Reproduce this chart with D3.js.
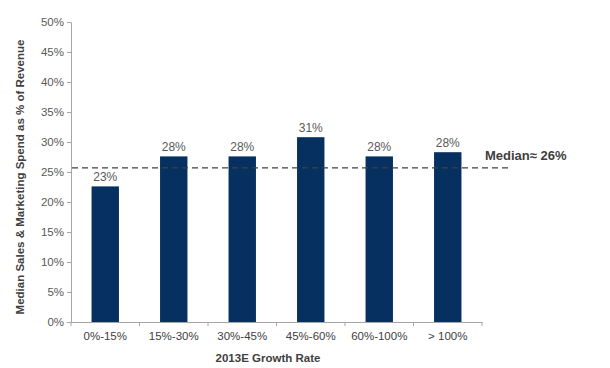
<!DOCTYPE html>
<html><head><meta charset="utf-8">
<script src="https://cdn.jsdelivr.net/npm/d3@7"></script>
<style>body{margin:0;background:#fff;}svg{display:block;font-family:Arial,"Liberation Sans",sans-serif;}</style>
</head><body><svg id="c" width="610" height="368"></svg>
<script>
const categories = ["0%-15%","15%-30%","30%-45%","45%-60%","60%-100%","> 100%"];
const values = [22.6, 27.6, 27.6, 30.8, 27.6, 28.3];
const valueLabels = ["23%","28%","28%","31%","28%","28%"];
const yTicks = [0,5,10,15,20,25,30,35,40,45,50];
const median = 25.7;
const medianLabel = "Median\u2248 26%";

const svg = d3.select("#c");
const x = d3.scaleBand().domain(categories).range([71, 482]).paddingInner(0.6).paddingOuter(0.3);
const y = d3.scaleLinear().domain([0, 50]).range([322, 22]);
const xb = d3.scaleBand().domain(categories).range([71, 482]);

// bars
svg.selectAll("rect.bar").data(values).enter().append("rect")
  .attr("x", (d,i) => x(categories[i]))
  .attr("y", d => y(d))
  .attr("width", x.bandwidth())
  .attr("height", d => y(0) - y(d))
  .attr("fill", "#06305f");

// value labels
svg.selectAll("text.val").data(values).enter().append("text")
  .attr("x", (d,i) => x(categories[i]) + x.bandwidth()/2)
  .attr("y", d => y(d) - 5)
  .attr("text-anchor", "middle")
  .attr("font-size", 12)
  .attr("fill", "#595959")
  .text((d,i) => valueLabels[i]);

// median line
svg.append("line")
  .attr("x1", 72).attr("x2", 510)
  .attr("y1", y(median)).attr("y2", y(median))
  .attr("stroke", "#404040").attr("stroke-width", 1.2)
  .attr("stroke-dasharray", "6,4");
svg.append("text").attr("x", 485).attr("y", y(median) - 8)
  .attr("font-size", 13).attr("font-weight", "bold").attr("fill", "#404040")
  .text(medianLabel);

// y axis
const yAxis = svg.append("g").attr("transform", "translate(71,0)")
  .call(d3.axisLeft(y).tickValues(yTicks).tickSize(4).tickPadding(3).tickFormat(d => d + "%"));
yAxis.select(".domain").attr("stroke", "#a6a6a6");
yAxis.selectAll(".tick line").attr("stroke", "#a6a6a6");
yAxis.selectAll(".tick text").attr("font-size", 11.5).attr("fill", "#595959").attr("font-family", "Arial, 'Liberation Sans', sans-serif");

// x axis
const xAxis = svg.append("g").attr("transform", "translate(0,322)")
  .call(d3.axisBottom(xb).tickSize(0).tickPadding(10));
xAxis.select(".domain").attr("stroke", "#a6a6a6");
xAxis.selectAll(".tick text").attr("font-size", 11.5).attr("fill", "#404040").attr("font-family", "Arial, 'Liberation Sans', sans-serif");
// category boundary ticks
const bounds = categories.map(c => xb(c)).concat([xb(categories[categories.length-1]) + xb.bandwidth()]);
svg.selectAll("line.bt").data(bounds).enter().append("line")
  .attr("x1", d => d).attr("x2", d => d).attr("y1", 322).attr("y2", 326)
  .attr("stroke", "#a6a6a6");

// axis titles
svg.append("text").attr("x", 268).attr("y", 362).attr("text-anchor", "middle")
  .attr("font-size", 11.5).attr("font-weight", "bold").attr("fill", "#404040")
  .text("2013E Growth Rate");
svg.append("text").attr("transform", "translate(24,177) rotate(-90)").attr("text-anchor", "middle")
  .attr("font-size", 11.5).attr("font-weight", "bold").attr("fill", "#404040")
  .text("Median Sales & Marketing Spend as % of Revenue");
</script></body></html>
